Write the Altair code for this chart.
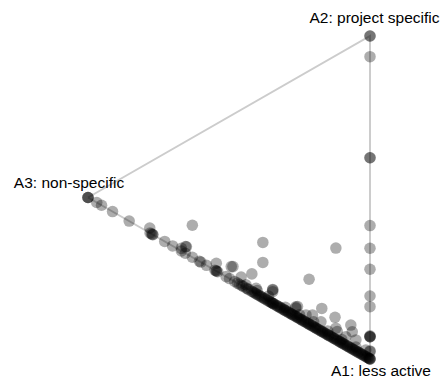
import altair as alt
import pandas as pd

# Archetype vertices (positions in the 2-D projection)
archetypes = ["A1: less active", "A2: project specific", "A3: non-specific"]
arch_x = [1.0, 1.0, 0.0]
arch_y = [0.0, 1.0, 0.5]

# Observations: weights on archetype A2 and A3 (A1 = 1 - A2 - A3)
# vertex A2 and right edge (A3 = 0)
edge_a2 = [1.0, 1.0, 0.936, 0.623, 0.623, 0.413, 0.343, 0.278, 0.195, 0.162,
           0.069, 0.069, 0.069, 0.072, 0.023, 0.025]
# vertex A3
vert3_a3 = [1.0, 1.0, 1.0]
# interior points (A2, A3)
inner_a2 = [0.099, 0.171, 0.109, 0.054, 0.283, 0.139, 0.071, 0.071, 0.053, 0.027,
            0.034, 0.034, 0.028, 0.043, 0.041, 0.043, 0.040, 0.024, 0.022, 0.025,
            0.026, 0.023, 0.035, 0.026, 0.034, 0.020, 0.067, 0.030, 0.015, 0.008,
            0.021, 0.036, 0.017, 0.010, 0.012, 0.015, 0.010, 0.012, 0.015, 0.012,
            0.010, 0.012]
inner_a3 = [0.630, 0.380, 0.380, 0.419, 0.121, 0.216, 0.171, 0.068, 0.063, 0.116,
            0.257, 0.204, 0.174, 0.345, 0.345, 0.486, 0.492, 0.545, 0.651, 0.457,
            0.263, 0.227, 0.121, 0.086, 0.050, 0.015, 0.124, 0.263, 0.781, 0.669,
            0.654, 0.345, 0.404, 0.440, 0.400, 0.360, 0.300, 0.250, 0.200, 0.150,
            0.100, 0.050]
# points on the A1-A3 edge (A2 = 0)
base_a3 = [0.969, 0.952, 0.913, 0.854, 0.780, 0.775, 0.771, 0.770, 0.728, 0.700,
           0.669, 0.655, 0.630, 0.600, 0.605, 0.580, 0.545, 0.545, 0.550, 0.540,
           0.510, 0.498, 0.480, 0.470, 0.463, 0.455, 0.450, 0.440, 0.435, 0.430,
           0.420, 0.415, 0.410, 0.405, 0.400, 0.395, 0.390, 0.385, 0.380, 0.375,
           0.372, 0.365, 0.360, 0.355, 0.352, 0.348, 0.345, 0.343, 0.340,
           0.333, 0.329, 0.326, 0.320, 0.317, 0.312, 0.307, 0.303, 0.300, 0.295,
           0.290, 0.287, 0.282, 0.278, 0.275, 0.270, 0.266, 0.261, 0.257, 0.254,
           0.249, 0.244, 0.241, 0.236, 0.232, 0.228, 0.223, 0.219, 0.216, 0.211,
           0.207, 0.202, 0.198, 0.194, 0.191, 0.186, 0.182, 0.177, 0.173, 0.169,
           0.166, 0.161, 0.157, 0.152, 0.148, 0.145, 0.140, 0.136, 0.131, 0.127,
           0.124, 0.119, 0.115, 0.110, 0.106, 0.103, 0.098, 0.094, 0.090, 0.085,
           0.081, 0.078, 0.073, 0.069, 0.064, 0.061, 0.056, 0.052, 0.048, 0.043,
           0.040, 0.035, 0.031, 0.027, 0.023, 0.019, 0.014, 0.010, 0.006, 0.003,
           0.0, 0.0, 0.0]

a2 = edge_a2 + [0.0] * len(vert3_a3) + inner_a2 + [0.0] * len(base_a3)
a3 = [0.0] * len(edge_a2) + vert3_a3 + inner_a3 + base_a3
rows = []
for w2, w3 in zip(a2, a3):
    w1 = 1.0 - w2 - w3
    rows.append({
        "x": w1 * arch_x[0] + w2 * arch_x[1] + w3 * arch_x[2],
        "y": w1 * arch_y[0] + w2 * arch_y[1] + w3 * arch_y[2],
    })
pts = pd.DataFrame(rows)

# triangle outline: A3 -> A2 -> A1 -> A3
edge_order = [2, 1, 0, 2]
tri = pd.DataFrame({
    "x": [arch_x[i] for i in edge_order],
    "y": [arch_y[i] for i in edge_order],
    "o": list(range(len(edge_order))),
})
verts = pd.DataFrame({"x": arch_x, "y": arch_y, "label": archetypes})

xs = alt.Scale(domain=[-0.28369, 1.24823], nice=False, zero=False)
ys = alt.Scale(domain=[-0.06502, 1.08669], nice=False, zero=False)
X = alt.X("x:Q", scale=xs, axis=None)
Y = alt.Y("y:Q", scale=ys, axis=None)

lines = alt.Chart(tri).mark_line(color="#cccccc", strokeWidth=2).encode(
    x=X, y=Y, order="o:Q")
dots = alt.Chart(pts).mark_circle(color="black", opacity=0.32, size=133).encode(x=X, y=Y)

def label(i, dx, dy):
    return alt.Chart(verts.iloc[[i]]).mark_text(
        font="Liberation Sans", fontSize=15.5, color="black", align="center",
        baseline="alphabetic", dx=dx, dy=dy).encode(x=X, y=Y, text="label:N")

chart = alt.layer(
    lines, dots, label(0, 11, 17), label(1, 4.5, -13), label(2, -19, -9)
).properties(
    width=432, height=372, padding=0, autosize=alt.AutoSizeParams(type="none")
).configure_view(stroke=None)

chart.save("out.html", embed_options={"renderer": "svg", "actions": False})
